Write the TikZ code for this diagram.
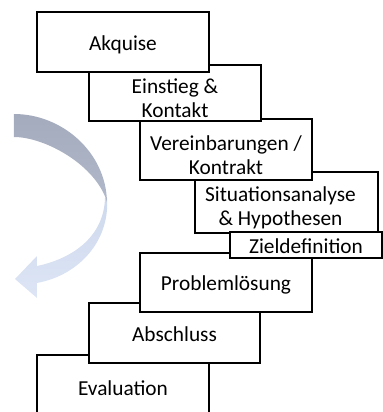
\documentclass[tikz,border=0pt]{standalone}
\usepackage{fontspec}
\setmainfont{Carlito}
\definecolor{graytop}{RGB}{164,171,188}
\definecolor{graybot}{RGB}{176,184,202}
\definecolor{bluetop}{RGB}{206,217,237}
\definecolor{bluebot}{RGB}{221,229,245}
\begin{document}
\begin{tikzpicture}[x=0.75pt,y=-0.75pt,
  box/.style={draw=black,fill=white,line width=1.1pt,inner sep=0pt,align=center,
    font=\fontsize{16}{18}\selectfont},
  one/.style={text height=15.6pt,text depth=3.6pt}]
\newcommand{\topstrut}{\rule{0pt}{19.5pt}}
\useasboundingbox (0,0) rectangle (383,412);
% curved arrow: light front band with head
\shade[top color=bluetop, bottom color=bluebot]
  (107,198) .. controls (110,240) and (80,275) .. (37,283)
  -- (37,298) -- (15,279) -- (37,256) -- (37,266)
  .. controls (75,258) and (104,235) .. (105,198) -- cycle;
% curved arrow: darker back band
\shade[top color=graytop, bottom color=graybot]
  (14,114) .. controls (62,114) and (106,152) .. (107,202)
  .. controls (96,165) and (45,137) .. (14,137) -- cycle;
% boxes (drawn from back to front)
\node[box,one,minimum width=129pt,minimum height=49pt] (eva) at (123,387.5) {Evaluation};
\node[box,one,minimum width=128.25pt,minimum height=45pt] (abs) at (174.5,333) {Abschluss};
\node[box,one,minimum width=129pt,minimum height=44.25pt] (pro) at (226,282.5) {Problemlösung};
\node[box,minimum width=137.25pt,minimum height=45.75pt] (sit) at (286.5,202.5) {\topstrut Situationsanalyse\hspace*{9pt}\\\& Hypothesen\hspace*{9pt}};
\node[box,one,minimum width=114pt,minimum height=19.5pt] (zie) at (306,245) {Zieldefinition};
\node[box,minimum width=129pt,minimum height=45.75pt] (ver) at (226,149.5) {\topstrut Vereinbarungen /\\Kontrakt};
\node[box,minimum width=129pt,minimum height=42pt] (ein) at (175,93) {\topstrut Einstieg \&\\Kontakt};
\node[box,one,minimum width=129pt,minimum height=45pt] (akq) at (123,42) {Akquise};
\end{tikzpicture}
\end{document}
